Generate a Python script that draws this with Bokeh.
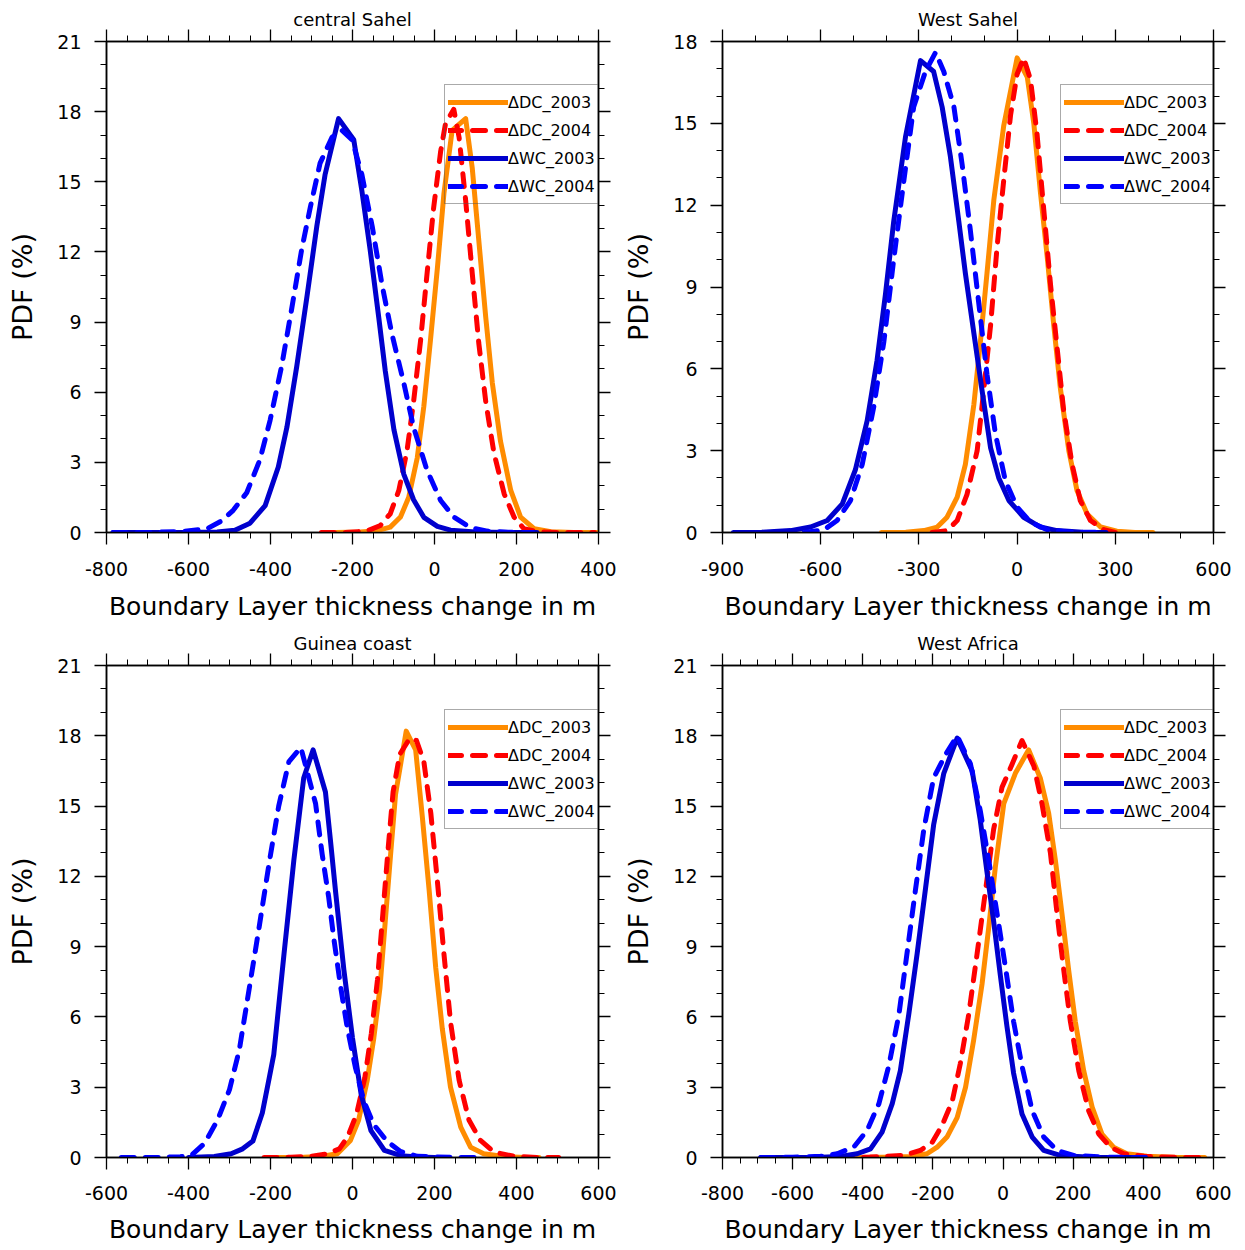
from bokeh.plotting import figure
from bokeh.layouts import gridplot
from bokeh.models import Range1d, LinearAxis, FixedTicker, Legend, LegendItem, CustomJSTickFormatter
from bokeh.embed import file_html
from bokeh.resources import INLINE

# ---------------- data ----------------
series_labels = ["\u0394DC_2003", "\u0394DC_2004", "\u0394WC_2003", "\u0394WC_2004"]
panel_titles = ["central Sahel", "West Sahel", "Guinea coast", "West Africa"]
x_title = "Boundary Layer thickness change in m"
y_title = "PDF (%)"

# central Sahel
cs_dc03_x = [-240, -180, -140, -108, -83, -63, -42, -26, -10, 7, 23, 43, 76, 92, 108, 125, 141, 161, 186, 210, 243, 284, 340, 400]
cs_dc03_y = [0, 0.02, 0.08, 0.23, 0.66, 1.5, 3.2, 5.4, 8.2, 11.3, 14.5, 17.2, 17.7, 15.6, 12.5, 9.2, 6.4, 3.9, 1.8, 0.66, 0.16, 0.03, 0, 0]
cs_dc04_x = [-276, -220, -165, -132, -108, -87, -67, -51, -34, -18, -2, 15, 27, 47, 60, 76, 92, 108, 125, 145, 170, 194, 218, 251, 300, 390]
cs_dc04_y = [0, 0, 0.06, 0.3, 0.8, 1.8, 3.5, 5.6, 8.2, 11.1, 13.9, 16.3, 17.5, 18.1, 16.9, 14.2, 11.1, 8.1, 5.6, 3.4, 1.65, 0.66, 0.16, 0.03, 0, 0]
cs_wc03_x = [-784, -700, -600, -530, -487, -450, -413, -381, -360, -336, -311, -287, -267, -234, -197, -177, -157, -136, -120, -99, -75, -51, -26, 7, 39, 100, 180, 250]
cs_wc03_y = [0, 0, 0, 0.02, 0.1, 0.4, 1.15, 2.8, 4.5, 7.1, 10.1, 13.1, 15.3, 17.7, 16.8, 14.6, 12.1, 9.2, 6.9, 4.4, 2.5, 1.4, 0.65, 0.26, 0.1, 0.02, 0, 0]
cs_wc04_x = [-784, -700, -613, -556, -519, -491, -458, -426, -401, -373, -348, -324, -303, -279, -250, -226, -201, -177, -152, -128, -104, -75, -51, -18, 15, 47, 88, 129, 180, 240]
cs_wc04_y = [0, 0, 0.05, 0.15, 0.5, 0.95, 1.7, 3.1, 4.8, 7.1, 9.6, 12.1, 13.9, 15.8, 16.9, 17.2, 16.8, 15.3, 13.1, 10.6, 8.5, 6.4, 4.5, 2.65, 1.37, 0.66, 0.2, 0.06, 0.01, 0]

# West Sahel
ws_dc03_x = [-415, -340, -285, -244, -214, -183, -158, -132, -112, -92, -71, -41, 0, 31, 51, 71, 92, 112, 132, 158, 183, 214, 255, 305, 360, 415]
ws_dc03_y = [0, 0.01, 0.07, 0.2, 0.56, 1.3, 2.5, 4.7, 7.0, 9.5, 12.2, 14.9, 17.4, 16.7, 15.0, 12.5, 10.1, 7.6, 5.3, 3.0, 1.54, 0.68, 0.2, 0.05, 0, 0]
ws_dc04_x = [-260, -214, -183, -153, -122, -102, -81, -61, -41, -20, 0, 20, 41, 61, 81, 102, 122, 142, 168, 193, 224, 265, 300]
ws_dc04_y = [0, 0.07, 0.44, 1.4, 3.0, 5.2, 7.6, 10.5, 12.9, 15.3, 16.8, 17.4, 16.6, 14.6, 11.9, 9.1, 6.8, 4.5, 2.5, 1.17, 0.44, 0.1, 0]
ws_wc03_x = [-867, -780, -692, -631, -580, -534, -494, -458, -428, -402, -377, -341, -295, -255, -229, -204, -178, -158, -132, -107, -81, -56, -25, 20, 71, 122, 200, 272]
ws_wc03_y = [0, 0.01, 0.07, 0.2, 0.44, 1.05, 2.3, 4.1, 6.3, 8.75, 11.4, 14.5, 17.3, 16.9, 15.6, 13.8, 11.4, 9.5, 7.3, 5.2, 3.1, 2.0, 1.17, 0.56, 0.2, 0.07, 0.01, 0]
ws_wc04_x = [-650, -590, -550, -509, -473, -438, -407, -377, -346, -316, -280, -249, -224, -193, -168, -143, -117, -92, -66, -36, 0, 41, 92, 153, 270]
ws_wc04_y = [0, 0.1, 0.44, 1.17, 2.5, 4.6, 7.0, 10.0, 12.9, 15.6, 16.9, 17.6, 16.9, 15.6, 13.5, 11.1, 8.4, 5.8, 3.6, 1.9, 0.93, 0.38, 0.1, 0.02, 0]

# Guinea coast
gc_dc03_x = [-190, -120, -77, -37, -5, 15, 36, 52, 67, 80, 93, 105, 131, 154, 170, 187, 203, 219, 239, 264, 288, 320, 369, 420, 455]
gc_dc03_y = [0, 0.01, 0.04, 0.16, 0.73, 1.6, 3.3, 5.1, 7.25, 10.1, 12.95, 15.5, 18.2, 17.4, 14.6, 11.4, 8.1, 5.5, 3.0, 1.3, 0.44, 0.16, 0.04, 0, 0]
gc_dc04_x = [-216, -150, -100, -61, -32, -12, 10, 30, 46, 61, 74, 87, 99, 115, 140, 156, 174, 191, 207, 223, 239, 260, 284, 312, 345, 394, 450, 503]
gc_dc04_y = [0, 0.01, 0.05, 0.16, 0.37, 0.87, 1.86, 3.4, 5.3, 7.6, 10.4, 13.2, 15.6, 17.2, 17.9, 17.8, 16.9, 14.7, 11.8, 8.7, 5.8, 3.3, 1.6, 0.73, 0.23, 0.05, 0, 0]
gc_wc03_x = [-400, -337, -296, -268, -243, -220, -203, -192, -167, -143, -119, -96, -66, -53, -41, -21, 0, 21, 45, 78, 118, 160, 200]
gc_wc03_y = [0, 0.04, 0.16, 0.37, 0.7, 1.9, 3.4, 4.4, 8.7, 12.7, 16.2, 17.4, 15.6, 13.4, 11.3, 8.0, 5.1, 2.7, 1.15, 0.3, 0.08, 0.02, 0]
gc_wc04_x = [-564, -480, -420, -393, -361, -329, -300, -276, -252, -228, -203, -180, -155, -126, -111, -90, -74, -58, -46, -29, -13, 7, 28, 52, 85, 117, 158, 250, 320]
gc_wc04_y = [0, 0, 0.03, 0.09, 0.6, 1.6, 2.9, 4.6, 7.2, 9.8, 12.6, 15.0, 16.9, 17.5, 16.5, 15.1, 12.95, 11.1, 9.4, 7.3, 5.56, 3.85, 2.4, 1.4, 0.68, 0.26, 0.05, 0, 0]

# West Africa
wa_dc03_x = [-426, -340, -264, -217, -188, -160, -131, -107, -84, -60, -41, -22, 2, 35, 73, 106, 130, 149, 168, 187, 206, 230, 254, 282, 315, 353, 410, 500, 575]
wa_dc03_y = [0, 0.01, 0.04, 0.16, 0.44, 0.87, 1.7, 3.0, 5.0, 7.4, 9.8, 12.4, 15.1, 16.4, 17.4, 16.2, 14.7, 12.7, 10.4, 8.0, 5.8, 3.7, 2.15, 1.0, 0.44, 0.16, 0.05, 0, 0]
wa_dc04_x = [-466, -380, -283, -236, -202, -174, -145, -122, -98, -74, -50, -27, -3, 26, 54, 88, 111, 135, 154, 173, 192, 216, 244, 273, 306, 344, 401, 500, 575]
wa_dc04_y = [0, 0.02, 0.09, 0.3, 0.65, 1.37, 2.4, 4.0, 6.1, 8.7, 11.4, 14.0, 15.8, 16.8, 17.8, 16.7, 15.1, 13.0, 10.4, 8.0, 5.8, 3.7, 2.0, 1.0, 0.44, 0.16, 0.05, 0, 0]
wa_wc03_x = [-691, -600, -520, -464, -416, -378, -345, -316, -293, -269, -245, -221, -198, -169, -131, -88, -65, -46, -27, -8, 11, 30, 54, 83, 116, 163, 250, 406]
wa_wc03_y = [0, 0, 0.01, 0.04, 0.16, 0.37, 1.08, 2.3, 3.7, 6.1, 8.7, 11.5, 14.2, 16.4, 17.9, 16.5, 14.4, 12.2, 10.1, 7.8, 5.6, 3.6, 1.86, 0.87, 0.3, 0.09, 0.01, 0]
wa_wc04_x = [-691, -600, -520, -473, -426, -388, -354, -326, -297, -274, -250, -226, -198, -164, -131, -93, -65, -41, -17, 7, 30, 54, 83, 116, 154, 201, 300, 406]
wa_wc04_y = [0, 0.01, 0.05, 0.16, 0.44, 1.15, 2.3, 3.9, 6.1, 8.7, 11.4, 14.0, 16.2, 17.2, 18.0, 16.8, 14.8, 12.7, 10.4, 8.1, 5.8, 3.9, 2.0, 0.87, 0.3, 0.09, 0.01, 0]

# axes ticks
cs_xticks = [-800, -600, -400, -200, 0, 200, 400]
cs_xminor = list(range(-800, 401, 50))
ws_xticks = [-900, -600, -300, 0, 300, 600]
ws_xminor = list(range(-900, 601, 100))
gc_xticks = [-600, -400, -200, 0, 200, 400, 600]
gc_xminor = list(range(-600, 601, 50))
wa_xticks = [-800, -600, -400, -200, 0, 200, 400, 600]
wa_xminor = list(range(-800, 601, 50))
y21_ticks = [0, 3, 6, 9, 12, 15, 18, 21]
y18_ticks = [0, 3, 6, 9, 12, 15, 18]
y21_minor = list(range(0, 22))
y18_minor = list(range(0, 19))

# ---------------- styling ----------------
FONT = "DejaVu Sans"
COLORS = ["#FF8C00", "#FF0000", "#0000CD", "#0000FF"]
DASHES = ["solid", "13 11", "solid", "13 11"]
LW = 5


def style_axis(ax, labels=True):
    ax.major_tick_in = 0
    ax.major_tick_out = 12
    ax.minor_tick_in = 0
    ax.minor_tick_out = 6
    ax.axis_line_width = 1.5
    ax.axis_line_color = "black"
    ax.major_tick_line_color = "black"
    ax.minor_tick_line_color = "black"
    ax.major_tick_line_width = 1.3
    ax.minor_tick_line_width = 1
    if labels:
        ax.major_label_text_font = FONT
        ax.major_label_text_font_size = "19px"
        ax.major_label_text_color = "black"
        ax.axis_label_text_font = FONT
        ax.axis_label_text_font_style = "normal"
        ax.axis_label_text_color = "black"
    else:
        ax.formatter = CustomJSTickFormatter(code="return ''")
        ax.major_label_text_font_size = "1px"
        ax.major_label_standoff = 0


def make_panel(title, xr, yr, xt, xm, yt, ym, curves, width, height, bl, br, bt, bb,
               x_std, x_lab_std):
    p = figure(width=width, height=height, x_range=Range1d(*xr), y_range=Range1d(*yr),
               output_backend="svg", toolbar_location=None,
               min_border_left=bl, min_border_right=br, min_border_top=bt, min_border_bottom=bb)
    p.xgrid.visible = False
    p.ygrid.visible = False
    p.outline_line_color = "black"
    p.outline_line_width = 1.5
    p.background_fill_color = "white"
    p.border_fill_color = "white"

    p.title.text = title
    p.title.align = "center"
    p.title.text_font = FONT
    p.title.text_font_size = "18px"
    p.title.text_font_style = "normal"
    p.title.text_color = "black"
    p.title.standoff = 0

    xa = p.xaxis[0]
    ya = p.yaxis[0]
    xa.ticker = FixedTicker(ticks=xt, minor_ticks=xm)
    ya.ticker = FixedTicker(ticks=yt, minor_ticks=ym)
    xa.major_label_overrides = {v: str(v) for v in xt}
    ya.major_label_overrides = {v: str(v) for v in yt}
    style_axis(xa)
    style_axis(ya)
    xa.axis_label = x_title
    ya.axis_label = y_title
    xa.axis_label_text_font_size = "25px"
    ya.axis_label_text_font_size = "27px"
    xa.major_label_standoff = x_std
    xa.axis_label_standoff = x_lab_std
    ya.major_label_standoff = 13
    ya.axis_label_standoff = 16

    top = LinearAxis(ticker=FixedTicker(ticks=xt, minor_ticks=xm))
    right = LinearAxis(ticker=FixedTicker(ticks=yt, minor_ticks=ym))
    style_axis(top, labels=False)
    style_axis(right, labels=False)
    p.add_layout(top, "above")
    p.add_layout(right, "right")

    items = []
    for (cx, cy), col, dash, lab in zip(curves, COLORS, DASHES, series_labels):
        r = p.line(cx, cy, line_color=col, line_width=LW, line_dash=dash,
                   line_cap="round", line_join="round")
        items.append(LegendItem(label=lab, renderers=[r]))
    leg = Legend(items=items, location=(338, 328), margin=0, padding=3, spacing=0,
                 glyph_width=60, glyph_height=28, label_height=28, label_standoff=0,
                 label_text_font=FONT, label_text_font_size="16px", label_text_color="black",
                 border_line_color="#555555", border_line_width=1,
                 background_fill_alpha=0, level="underlay")
    p.add_layout(leg)
    return p


p1 = make_panel(panel_titles[0], (-800, 400), (0, 21), cs_xticks, cs_xminor, y21_ticks, y21_minor,
                [(cs_dc03_x, cs_dc03_y), (cs_dc04_x, cs_dc04_y), (cs_wc03_x, cs_wc03_y), (cs_wc04_x, cs_wc04_y)],
                618, 629, 106, 20, 41, 97, 17, 13)
p2 = make_panel(panel_titles[1], (-900, 600), (0, 18), ws_xticks, ws_xminor, y18_ticks, y18_minor,
                [(ws_dc03_x, ws_dc03_y), (ws_dc04_x, ws_dc04_y), (ws_wc03_x, ws_wc03_y), (ws_wc04_x, ws_wc04_y)],
                617, 629, 104, 22, 41, 97, 17, 13)
p3 = make_panel(panel_titles[2], (-600, 600), (0, 21), gc_xticks, gc_xminor, y21_ticks, y21_minor,
                [(gc_dc03_x, gc_dc03_y), (gc_dc04_x, gc_dc04_y), (gc_wc03_x, gc_wc03_y), (gc_wc04_x, gc_wc04_y)],
                618, 618, 106, 20, 36, 90, 16, 12)
p4 = make_panel(panel_titles[3], (-800, 600), (0, 21), wa_xticks, wa_xminor, y21_ticks, y21_minor,
                [(wa_dc03_x, wa_dc03_y), (wa_dc04_x, wa_dc04_y), (wa_wc03_x, wa_wc03_y), (wa_wc04_x, wa_wc04_y)],
                617, 618, 104, 22, 36, 90, 16, 12)

grid = gridplot([[p1, p2], [p3, p4]], toolbar_location=None)

open("out.html", "w").write(file_html(grid, INLINE))
